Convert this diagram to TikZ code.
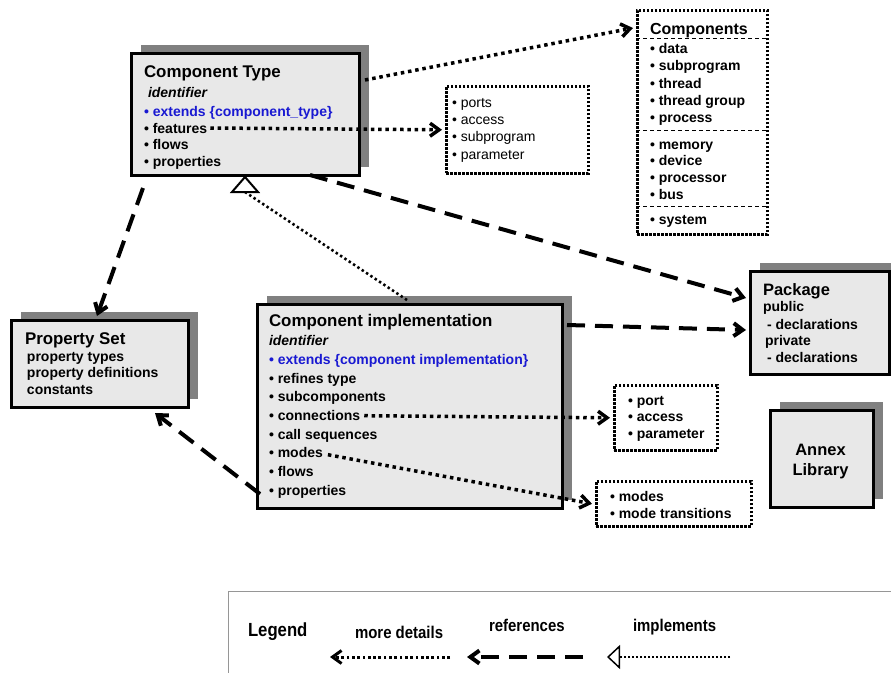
\documentclass[tikz,border=0pt]{standalone}
\usepackage{fontspec}
\setmainfont{Liberation Sans}
\newfontfamily\legendfont[FakeStretch=0.88]{Liberation Sans}
\usetikzlibrary{arrows.meta,shadows,calc}
\definecolor{boxfill}{RGB}{232,232,232}
\definecolor{shadowgray}{RGB}{128,128,128}
\definecolor{extblue}{RGB}{25,25,210}
\definecolor{legendgray}{RGB}{150,150,150}
\begin{document}
\begin{tikzpicture}[x=1pt,y=-1pt,
  solidbox/.style={draw=black, line width=3pt, fill=boxfill, anchor=north west, inner sep=0pt,
    general shadow={fill=shadowgray, shadow xshift=9pt, shadow yshift=9pt}},
  dotbox/.style={draw=black, line width=2.6pt, dash pattern=on 2.6pt off 1.4pt, fill=white, anchor=north west, inner sep=0pt},
  sepline/.style={line width=0.9pt, dash pattern=on 4pt off 3pt},
  txt/.style={anchor=base west, inner sep=0pt, outer sep=0pt},
  ttl/.style={txt, font=\fontsize{16.9}{19}\selectfont\bfseries},
  bdy/.style={txt, font=\fontsize{14}{16}\selectfont\bfseries},
  bdi/.style={txt, font=\fontsize{14}{16}\selectfont\bfseries\itshape},
  reg/.style={txt, font=\fontsize{14}{16}\selectfont},
  lgd/.style={txt, font=\legendfont\fontsize{17}{19}\selectfont\bfseries},
  barb/.tip={Straight Barb[length=9pt,width=13pt]},
  dotarrow/.style={line width=3.5pt, dash pattern=on 3.5pt off 3.8pt, -barb},
  dasharrow/.style={line width=4pt, dash pattern=on 18pt off 10pt, -barb},
  implline/.style={line width=2.6pt, dash pattern=on 2.4pt off 2.8pt},
  trishape/.style={line width=2pt, draw=black, fill=white, line join=miter}
]
\useasboundingbox (0,0) rectangle (891,672);

% ---------- boxes ----------
\node[solidbox, minimum width=228, minimum height=122] (ct) at (130,52) {};
\node[solidbox, minimum width=177, minimum height=87] (ps) at (10,319) {};
\node[solidbox, minimum width=305, minimum height=204] (impl) at (256,303) {};
\node[solidbox, minimum width=139, minimum height=103] (pkg) at (749,270) {};
\node[solidbox, minimum width=103, minimum height=97] (annex) at (769,409) {};

\node[dotbox, minimum width=130, minimum height=224] (comps) at (636,9) {};
\node[dotbox, minimum width=142, minimum height=87] (ports) at (445,85) {};
\node[dotbox, minimum width=103, minimum height=65] (portb) at (613,384) {};
\node[dotbox, minimum width=155, minimum height=45] (modesb) at (595,480) {};

\node[draw=legendgray, line width=1.2pt, anchor=north west, inner sep=0pt,
      minimum width=690, minimum height=100] (legend) at (228,591) {};

% ---------- Component Type ----------
\node[ttl] (ctT) at (144,77) {Component Type};
\node[bdi] (ctI) at (148,97) {identifier};
\node[bdy, text=extblue] (ctE) at (144,116) {• extends \{component\_type\}};
\node[bdy] (ctF) at (144,133) {• features};
\node[bdy] (ctL) at (144,149.5) {• flows};
\node[bdy] (ctP) at (144,166) {• properties};

% ---------- Components ----------
\node[txt, font=\fontsize{16}{18}\selectfont\bfseries] (cpT) at (650,34.3) {Components};
\draw[sepline] ([shift={(0,29.5)}]comps.north west) -- ([shift={(0,29.5)}]comps.north east);
\draw[sepline] ([shift={(0,121)}]comps.north west) -- ([shift={(0,121)}]comps.north east);
\draw[sepline] ([shift={(0,197.5)}]comps.north west) -- ([shift={(0,197.5)}]comps.north east);
\node[bdy] (cp1) at (650,53.3) {• data};
\node[bdy] (cp2) at (650,70.7) {• subprogram};
\node[bdy] (cp3) at (650,88) {• thread};
\node[bdy] (cp4) at (650,105) {• thread group};
\node[bdy] (cp5) at (650,122) {• process};
\node[bdy] (cp6) at (650,149) {• memory};
\node[bdy] (cp7) at (650,165.7) {• device};
\node[bdy] (cp8) at (650,182.7) {• processor};
\node[bdy] (cp9) at (650,199.3) {• bus};
\node[bdy] (cp10) at (650,224) {• system};

% ---------- ports box ----------
\node[reg] (pt1) at (452,107.3) {• ports};
\node[reg] (pt2) at (452,124) {• access};
\node[reg] (pt3) at (452,141.7) {• subprogram};
\node[reg] (pt4) at (452,159) {• parameter};

% ---------- Property Set ----------
\node[ttl] (psT) at (25,344) {Property Set};
\node[bdy] (ps1) at (27,361) {property types};
\node[bdy] (ps2) at (27,377.7) {property definitions};
\node[bdy] (ps3) at (27,394.3) {constants};

% ---------- Component implementation ----------
\node[ttl] (imT) at (269,326.7) {Component implementation};
\node[bdi] (imI) at (269,345) {identifier};
\node[bdy, text=extblue] (imE) at (269,364) {• extends \{component implementation\}};
\node[bdy] (im1) at (269,383.3) {• refines type};
\node[bdy] (im2) at (269,401.7) {• subcomponents};
\node[bdy] (imC) at (269,420.7) {• connections};
\node[bdy] (im4) at (269,439.3) {• call sequences};
\node[bdy] (imM) at (269,457.7) {• modes};
\node[bdy] (im6) at (269,476.7) {• flows};
\node[bdy] (imP) at (269,495) {• properties};

% ---------- Package ----------
\node[txt, font=\fontsize{16.5}{19}\selectfont\bfseries] (pkT) at (763,295) {Package};
\node[bdy] (pk1) at (763,311.7) {public};
\node[bdy] (pk2) at (767,329) {- declarations};
\node[bdy] (pk3) at (765,345.7) {private};
\node[bdy] (pk4) at (767,362.3) {- declarations};

% ---------- Annex Library ----------
\node[anchor=base, inner sep=0pt, font=\fontsize{16.5}{19}\selectfont\bfseries] (anT1) at (820.5,455) {Annex};
\node[anchor=base, inner sep=0pt, font=\fontsize{16.5}{19}\selectfont\bfseries] (anT2) at (820.5,475) {Library};

% ---------- port / modes boxes ----------
\node[bdy] (pb1) at (628,405) {• port};
\node[bdy] (pb2) at (628,421.7) {• access};
\node[bdy] (pb3) at (628,438.3) {• parameter};
\node[bdy] (mb1) at (610,501.7) {• modes};
\node[bdy] (mb2) at (610,518.3) {• mode transitions};

% ---------- connectors ----------
\draw[dotarrow] ([shift={(4,28)}]ct.north east) -- ([shift={(-3,19)}]comps.north west);
\draw[dotarrow] ([shift={(3,-5)}]ctF.base east) -- ([xshift=-3pt]ports.west);
\draw[dasharrow] ([shift={(13,11)}]ct.south west) -- ([shift={(87,-3)}]ps.north west);
\draw[dasharrow] ([shift={(180,-2)}]ct.south west) -- ([shift={(-3,28)}]pkg.north west);
\draw[dasharrow] ([shift={(3,22)}]impl.north east) -- ([shift={(-3,60)}]pkg.north west);
\draw[dotarrow] ([shift={(4,-5)}]imC.base east) -- ([xshift=-3pt]portb.west);
\draw[dotarrow] ([shift={(5,-3)}]imM.base east) -- ([xshift=-3pt]modesb.west);
\draw[dasharrow] ([shift={(4,-16)}]impl.south west) -- ([shift={(-35,4)}]ps.south east);

\coordinate (tri) at ([shift={(115,15)}]ct.south west);
\draw[implline] ([shift={(151,-3)}]impl.north west) -- (tri);
\draw[trishape] (tri) ++(-13,0) -- ++(13,-15) -- ++(13,15) -- cycle;

% ---------- legend ----------
\node[txt, font=\legendfont\fontsize{19}{21}\selectfont\bfseries] (lgT) at (248,636.7) {Legend};
\node[lgd] (lg1) at (355,638) {more details};
\node[lgd] (lg2) at (489,631.7) {references};
\node[lgd] (lg3) at (633,631.7) {implements};
\coordinate (mdS) at (450,657);
\coordinate (mdE) at (330,657);
\coordinate (rfS) at (583,657);
\coordinate (rfE) at (467,657);
\coordinate (imS) at (730,657);
\coordinate (imE2) at (607,657);
\draw[line width=3pt, dash pattern=on 2.7pt off 2.6pt, -barb] (mdS) -- (mdE);
\draw[dasharrow] (rfS) -- (rfE);
\draw[line width=2.4pt, dash pattern=on 2pt off 2pt, -{Triangle[open,length=13pt,width=24pt,line width=1.5pt]}] (imS) -- (imE2);
\end{tikzpicture}
\end{document}
